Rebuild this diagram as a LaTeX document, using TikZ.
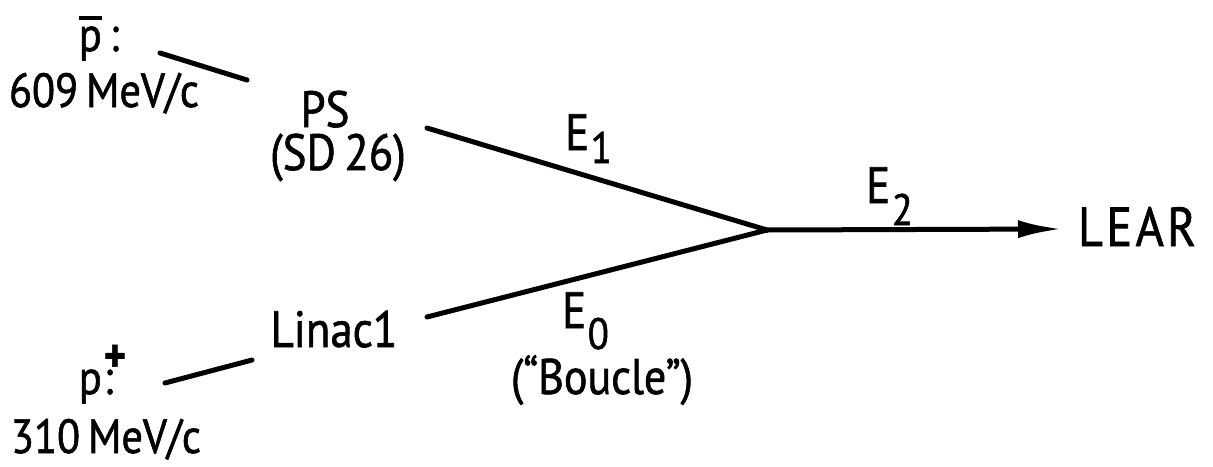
\documentclass[tikz,border=0pt]{standalone}
\usepackage{fontspec}
\setmainfont{PT Sans}[FakeStretch=0.88,FakeBold=1.2]
\usetikzlibrary{arrows.meta}
\newcommand\pbarglyph{\setbox0\hbox{p}\vbox{\hrule height 4.5pt width \wd0\kern 6pt\box0}}
\newcommand\Elab[2]{E\kern1.5pt\raisebox{-#2pt}{\fontsize{44}{50}\selectfont #1}}
\tikzset{
  lbl/.style={inner sep=0pt, anchor=base, font=\fontsize{48}{54}\selectfont},
  big/.style={lbl, font=\fontsize{51}{56}\selectfont},
  beam/.style={line width=5pt, line cap=round},
}
\begin{document}
\begin{tikzpicture}[x=1pt,y=-1pt]
\useasboundingbox (0,0) rectangle (1213,466);
% labels
\node[lbl] (pbar) at (99,51) {\pbarglyph\,:};
\node[lbl] (mom1) at (104,107) {609\,MeV/c};
\node[big] (ps) at (325,127) {PS};
\node[big] (sd) at (338,170) {(SD\,26)};
\node[big] (linac) at (334,347) {Linac1};
\node[lbl] (pplus) at (102,394) {p\kern2pt\rlap{\raisebox{22pt}{\bfseries+}}:\kern12pt};
\node[lbl] (mom2) at (106,453) {310\,MeV/c};
\node[big, anchor=base west] (e1) at (565,150) {\Elab{1}{13}};
\node[big, anchor=base west] (e2) at (866,203) {\Elab{2}{22}};
\node[big, anchor=base west] (e0) at (562,328) {\Elab{0}{21}};
\node[lbl, font=\fontsize{50}{56}\selectfont] (boucle) at (602,394) {(``Boucle'')};
\node[big, font=\fontsize{55}{60}\selectfont\addfontfeature{LetterSpace=6}] (lear) at (1137,246) {LEAR};
% beam lines
\coordinate (j) at (767,230);
\coordinate (a1) at (160,53);
\coordinate (a2) at (247,80);
\coordinate (b1) at (165,383);
\coordinate (b2) at (252,360);
\coordinate (ps0) at (427,128);
\coordinate (li0) at (427,317);
\coordinate (tip) at (1062,229);
\draw[beam] (a1) -- (a2);
\draw[beam] (b1) -- (b2);
\draw[beam] (ps0) -- (j);
\draw[beam] (li0) -- (j);
\draw[beam, -{Latex[length=44pt,width=18pt]}] (j) -- (tip);
\end{tikzpicture}
\end{document}
